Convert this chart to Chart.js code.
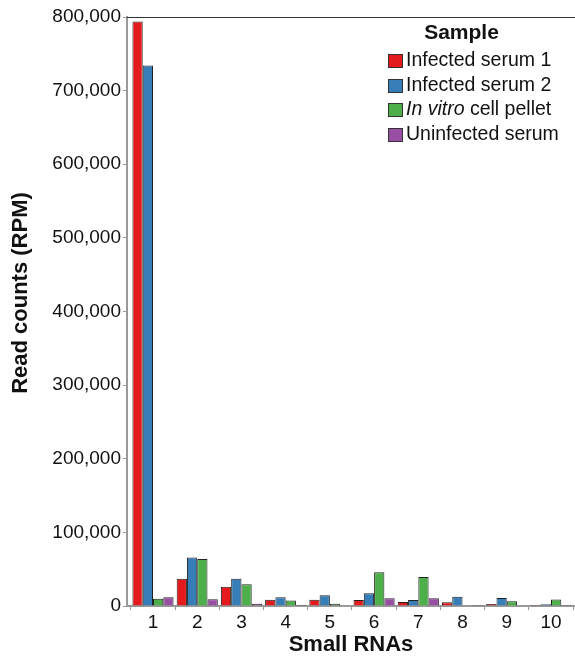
<!DOCTYPE html>
<html>
<head>
<meta charset="utf-8">
<script src="https://cdn.jsdelivr.net/npm/chart.js@4/dist/chart.umd.min.js"></script>
<style>
  html, body { margin: 0; padding: 0; background: #fff; }
  #wrap { width: 575px; height: 657px; position: relative; }
</style>
</head>
<body>
<div id="wrap"><canvas id="c"></canvas></div>
<script>
// Small RNA categories along the x axis
const categories = ['1', '2', '3', '4', '5', '6', '7', '8', '9', '10'];

// Read counts (RPM) per sample
const infectedSerum1 = [794000, 37000, 26000, 8500, 8500, 8200, 5400, 5000, 2700, 1400];
const infectedSerum2 = [734000, 66000, 37000, 11800, 14500, 17200, 8000, 12400, 10800, 2500];
const inVitroPellet  = [10000, 64000, 29500, 7500, 3000, 46000, 39400, 0, 6300, 8800];
const uninfectedSerum = [12000, 9000, 3000, 1600, 0, 10400, 10400, 1400, 0, 1400];

// Y axis ticks
const yTicks = [0, 100000, 200000, 300000, 400000, 500000, 600000, 700000, 800000];

const seriesNames = ['Infected serum 1', 'Infected serum 2', 'In vitro cell pellet', 'Uninfected serum'];
const seriesColors = ['#E41A1C', '#377EB8', '#4DAF4A', '#984EA3'];
const seriesValues = [infectedSerum1, infectedSerum2, inVitroPellet, uninfectedSerum];

const FONT = '"Liberation Sans", Arial, sans-serif';
const fmt = v => v.toLocaleString('en-US');

const datasets = seriesNames.map((name, i) => ({
  label: name,
  data: seriesValues[i].map((v, k) => ({ x: k + 1, y: v })),
  backgroundColor: seriesColors[i],
  borderColor: '#222',
  borderWidth: 1,
  borderSkipped: 'bottom',
  categoryPercentage: 0.93,
  barPercentage: 1.0
}));

// Frame line, axis titles and the sample legend
const decorations = {
  id: 'decorations',
  afterDraw(chart) {
    const ctx = chart.ctx;
    const a = chart.chartArea;
    ctx.save();
    // top frame line
    ctx.strokeStyle = '#333';
    ctx.lineWidth = 1;
    ctx.beginPath();
    ctx.moveTo(a.left, a.top + 0.5);
    ctx.lineTo(a.right, a.top + 0.5);
    ctx.stroke();

    ctx.fillStyle = '#111';
    // x axis title
    ctx.font = 'bold 22px ' + FONT;
    ctx.textAlign = 'center';
    ctx.textBaseline = 'middle';
    ctx.fillText('Small RNAs', (a.left + a.right) / 2, 645);
    // y axis title
    ctx.save();
    ctx.translate(21, 293);
    ctx.rotate(-Math.PI / 2);
    ctx.fillText('Read counts (RPM)', 0, 0);
    ctx.restore();

    // legend
    ctx.font = 'bold 21px ' + FONT;
    ctx.textAlign = 'center';
    ctx.fillText('Sample', 461.5, 33);
    const rows = [61, 86, 110, 135];
    ctx.textAlign = 'left';
    seriesNames.forEach((name, i) => {
      const y = rows[i];
      ctx.fillStyle = seriesColors[i];
      ctx.fillRect(388, y - 7, 15, 14);
      ctx.strokeStyle = '#333';
      ctx.lineWidth = 1;
      ctx.strokeRect(388.5, y - 6.5, 14, 13);
      ctx.fillStyle = '#111';
      let x = 406;
      if (name.startsWith('In vitro')) {
        ctx.font = 'italic 19.5px ' + FONT;
        ctx.fillText('In vitro', x, y);
        x += ctx.measureText('In vitro').width;
        ctx.font = '19.5px ' + FONT;
        ctx.fillText(name.slice('In vitro'.length), x, y);
      } else {
        ctx.font = '19.5px ' + FONT;
        ctx.fillText(name, x, y);
      }
    });
    ctx.restore();
  }
};

new Chart(document.getElementById('c'), {
  type: 'bar',
  data: { datasets },
  options: {
    responsive: true,
    maintainAspectRatio: false,
    animation: false,
    layout: { padding: { top: 17, right: 0, bottom: 0, left: 0 } },
    plugins: {
      legend: { display: false },
      tooltip: { enabled: false }
    },
    scales: {
      x: {
        type: 'linear',
        min: 0.412,
        max: 10.543,
        offset: false,
        afterBuildTicks: s => { s.ticks = categories.map((_, i) => ({ value: i + 1 })); },
        afterFit: s => { s.height = 51; },
        ticks: {
          autoSkip: false,
          maxRotation: 0,
          padding: 1,
          color: '#111',
          font: { family: FONT, size: 19 },
          callback: v => categories[Math.round(v) - 1] ?? ''
        },
        grid: { drawOnChartArea: false, drawTicks: true, tickLength: 4, color: '#999', lineWidth: 1 },
        border: { display: true, color: '#999', width: 2 },
        title: { display: false }
      },
      y: {
        min: 0,
        max: 800000,
        afterBuildTicks: s => { s.ticks = yTicks.map(v => ({ value: v })); },
        afterFit: s => { s.width = 127; },
        ticks: {
          padding: 2,
          color: '#111',
          font: { family: FONT, size: 19 },
          callback: v => fmt(v)
        },
        grid: { drawOnChartArea: false, drawTicks: true, tickLength: 4, color: '#999', lineWidth: 1 },
        border: { display: true, color: '#999', width: 2 },
        title: { display: false }
      }
    }
  },
  plugins: [decorations]
});
</script>
</body>
</html>
